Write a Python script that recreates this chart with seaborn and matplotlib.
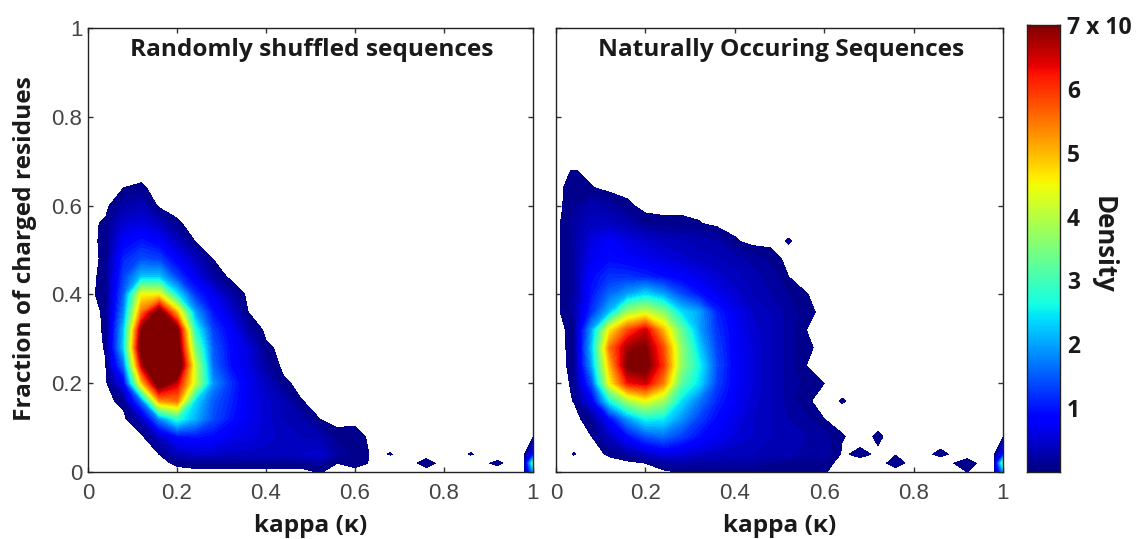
import numpy as np
import matplotlib
matplotlib.use("Agg")
import matplotlib.pyplot as plt
import seaborn as sns

# Grid the densities were read on
kappa_grid = [0, .04, .08, .12, .16, .20, .24, .28, .32, .36, .40, .44, .48, .52, .56,
              .60, .64, .68, .72, .76, .80, .86, .92, .96, .98, 1.0]
fcr_grid = [.68, .64, .60, .56, .52, .48, .44, .40, .36, .32, .28, .24, .20, .16, .12, .08, .04, .02, 0]

# Density, one row per fcr_grid value (zeros to the right are left out)
shuffled_density = [
    [0],
    [0, 0, .05, .07],
    [0, 0, .25, .35],
    [0, .08, .5, .6, .4, .07],
    [0, .09, .8, 1.0, .8, .4, .05],
    [0, .08, 1.1, 1.4, 1.3, .8, .4, .05],
    [0, .1, 1.3, 2.2, 2.2, 1.3, .7, .22],
    [0, .12, 1.5, 4.5, 4.5, 2.5, 1.2, .7, .25],
    [0, .07, 1.8, 5.5, 7.3, 5.0, 2.0, 1.0, .55, .05],
    [0, .065, 2.2, 7.0, 8.0, 7.2, 2.8, 1.3, .8, .25],
    [0, .057, 2.3, 7.5, 8.5, 7.5, 3.5, 1.5, .9, .55, .085],
    [0, .045, 1.6, 6.5, 8.5, 8.0, 4.2, 1.6, .95, .6, .2],
    [0, 0, .7, 4.8, 7.5, 6.5, 4.2, 1.9, 1.2, .7, .4, .08],
    [0, 0, .1, 1.6, 5.2, 5.5, 2.4, 1.5, 1.1, .7, .5, .3, .055],
    [0, 0, 0, .35, 1.8, 2.8, 2.1, 1.4, 1.0, .7, .5, .35, .25, .05],
    [0, 0, 0, 0, .4, .9, 1.0, .9, .7, .6, .5, .4, .35, .3, .1, .12],
    [0, 0, 0, 0, .05, .35, .45, .45, .4, .4, .4, .35, .45, .5, .2, .12, .03, .055, 0, 0, 0, .055, 0, 0, 0, .9],
    [0, 0, 0, 0, 0, .08, .12, .12, .12, .12, .12, .12, .12, .2, .05, .1, .03, 0, 0, .1, 0, 0, .07, 0, .04, 3.0],
    [0, 0, 0, 0, 0, 0, 0, 0, 0, 0, 0, 0, 0, .06, 0, 0, 0, 0, 0, 0, 0, 0, 0, 0, 0, 1.8],
]
natural_density = [
    [0, .06],
    [0, .12, .06],
    [0, .13, .3, .2, .08],
    [0, .2, .4, .4, .3, .12, .09, .09, .06, 0],
    [0, .2, .6, .8, .6, .5, .4, .35, .3, .25, .067, 0, 0, .06],
    [0, .2, .7, .9, .8, .7, .6, .5, .4, .35, .3, .2, .13],
    [0, .2, .9, 1.2, 1.2, 1.1, .95, .8, .65, .5, .4, .3, .2, .05],
    [0, .2, 1.0, 1.6, 2.0, 2.4, 2.0, 1.4, 1.0, .7, .5, .35, .25, .15, .055],
    [0, .2, 1.2, 2.2, 3.8, 4.2, 3.6, 2.4, 2.0, 1.1, .7, .45, .35, .2, .1],
    [0, .095, 2.0, 4.6, 5.8, 6.5, 5.0, 3.3, 2.0, 1.2, .8, .5, .35, .2, .05],
    [0, .09, 2.2, 5.5, 6.8, 7.0, 5.8, 3.7, 2.3, 1.3, .8, .55, .35, .2, .08],
    [0, .083, 2.0, 5.0, 7.1, 7.2, 6.0, 3.7, 2.6, 1.4, .8, .55, .35, .2, .05],
    [0, .067, 1.4, 4.5, 6.2, 6.5, 5.4, 3.2, 2.4, 1.3, .8, .55, .35, .2, .12, .05],
    [0, .054, .7, 2.6, 3.8, 4.4, 3.8, 2.4, 1.7, 1.1, .75, .5, .35, .2, .07, 0, .06],
    [0, 0, .13, .9, 1.9, 2.6, 2.5, 1.9, 1.3, .9, .65, .45, .35, .25, .18, .05],
    [0, 0, .05, .4, .9, 1.4, 1.6, 1.3, .95, .75, .55, .45, .35, .3, .25, .2, .06, 0, .07],
    [0, .055, 0, .07, .2, .4, .6, .55, .45, .4, .35, .35, .3, .3, .2, .25, .03, .08, .03, .045, 0, .07, 0, 0, 0, .9],
    [0, 0, 0, 0, 0, .05, .2, .25, .2, .2, .2, .2, .15, .1, .1, .1, 0, 0, 0, .1, 0, 0, .1, 0, 0, 3.2],
    [0, 0, 0, 0, 0, 0, 0, .07, .07, .07, .07, .07, .07, .07, .06, .06, 0, 0, 0, 0, 0, 0, .05, 0, 0, 1.8],
]
panel_titles = ["Randomly shuffled sequences", "Naturally Occuring Sequences"]
axis_ticks = [0, 0.2, 0.4, 0.6, 0.8, 1]
axis_labels = ["0", "0.2", "0.4", "0.6", "0.8", "1"]
density_ticks = [1, 2, 3, 4, 5, 6, 7]
density_labels = ["1", "2", "3", "4", "5", "6", "7 x 10"]

sns.set_theme(style="ticks")
plt.rcParams["font.family"] = ["Liberation Sans", "DejaVu Sans"]
jet = matplotlib.colormaps["jet"].copy()
jet.set_over(jet(1.0))

W, H = 1140, 539
fig = plt.figure(figsize=(W / 100, H / 100), dpi=100)


def px_axes(x0, x1, y0, y1):
    return fig.add_axes([x0 / W, 1 - y1 / H, (x1 - x0) / W, (y1 - y0) / H])


def to_grid(rows):
    # short rows have only zeros left
    out = np.zeros((len(fcr_grid), len(kappa_grid)))
    for i, r in enumerate(rows):
        out[i, :len(r)] = r
    return out


bold = dict(family="Open Sans", fontweight="bold", color="#1a1a1a")
levels = np.linspace(0.05, 7, 70)

boxes = [(88, 533), (556, 1003)]
grids = [shuffled_density, natural_density]
for n in range(2):
    ax = px_axes(boxes[n][0], boxes[n][1], 28, 472)
    ax.contourf(kappa_grid, fcr_grid, to_grid(grids[n]), levels=levels, cmap=jet,
                vmin=0, vmax=7, extend="max")
    ax.set_xlim(0, 1)
    ax.set_ylim(0, 1)
    ax.set_xticks(axis_ticks)
    ax.set_xticklabels(axis_labels)
    ax.set_yticks(axis_ticks)
    ax.set_yticklabels(axis_labels if n == 0 else [])
    ax.tick_params(direction="in", length=3.5, width=1, color="#333333", labelsize=16,
                   labelcolor="#444444", top=True, right=True)
    ax.tick_params(axis="x", pad=8)
    ax.tick_params(axis="y", pad=4)
    for s in ax.spines.values():
        s.set_visible(True)
        s.set_linewidth(1)
        s.set_color("#222222")
    ax.text(0.503, 0.95, panel_titles[n], transform=ax.transAxes, ha="center", va="center",
            fontsize=17.6, **bold)
    ax.set_xlabel("")
    ax.text(0.5, -0.122, "kappa (κ)", transform=ax.transAxes, ha="center",
            va="center", fontsize=17.6, **bold)

fig.text(25 / W, 1 - 249 / H, "Fraction of charged residues", rotation=90, ha="center", va="center",
         fontsize=17.6, **bold)

# Colour scale strip
cax = px_axes(1027, 1060, 25, 472)
strip = np.arange(256)[::-1].reshape(-1, 1)
sns.heatmap(strip, ax=cax, cmap=jet, cbar=False, xticklabels=False, yticklabels=False)
cax.set_xticks([])
cax.set_yticks([256 - v / 7 * 256 for v in density_ticks])
cax.set_yticklabels(density_labels)
cax.tick_params(direction="in", length=3, width=1, color="#333333", left=True, right=True,
                labelleft=False, labelright=True, pad=5)
for lab in cax.get_yticklabels():
    lab.set_fontsize(16.5)
    lab.set_family("Open Sans")
    lab.set_fontweight("bold")
    lab.set_color("#1a1a1a")
    lab.set_rotation(0)
for s in cax.spines.values():
    s.set_visible(True)
    s.set_linewidth(1)
    s.set_color("#222222")
fig.text(1103 / W, 1 - 245 / H, "Density", rotation=270, ha="center", va="center", fontsize=18.5, **bold)

fig.savefig("out.png", dpi=100)
